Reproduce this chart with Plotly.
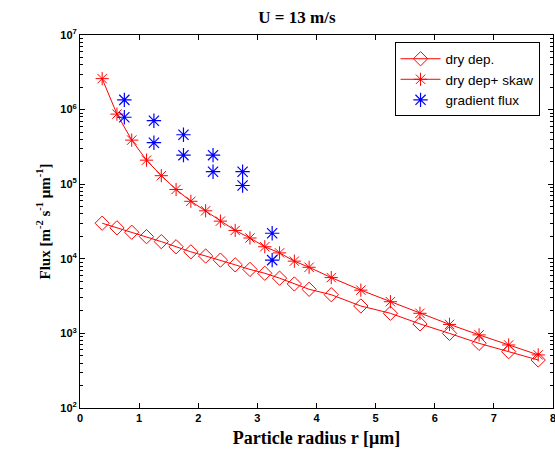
import plotly.graph_objects as go

# Particle radius bins (µm)
r_model = [0.375, 0.625, 0.875, 1.125, 1.375, 1.625, 1.875, 2.125, 2.375, 2.625,
           2.875, 3.125, 3.375, 3.625, 3.875, 4.25, 4.75, 5.25, 5.75, 6.25, 6.75, 7.25, 7.75]
dry_dep = [3.0e4, 2.6e4, 2.27e4, 1.98e4, 1.7e4, 1.45e4, 1.24e4, 1.09e4, 9.6e3, 8.3e3,
           7.2e3, 6.4e3, 5.5e3, 4.6e3, 3.9e3, 3.3e3, 2.33e3, 1.86e3, 1.34e3, 1.0e3, 736, 569, 440]
dry_dep_skaw = [2.6e6, 8.7e5, 3.9e5, 2.1e5, 1.3e5, 8.5e4, 5.9e4, 4.4e4, 3.2e4, 2.4e4,
                1.9e4, 1.45e4, 1.2e4, 9.3e3, 7.7e3, 5.6e3, 3.8e3, 2.66e3, 1.86e3, 1.32e3, 955, 700, 515]
r_grad = [0.75, 0.75, 1.25, 1.25, 1.75, 1.75, 2.25, 2.25, 2.75, 2.75, 3.25, 3.25]
grad_flux = [1.35e6, 7.9e5, 7.1e5, 3.6e5, 4.6e5, 2.45e5, 2.45e5, 1.47e5, 1.47e5, 9.6e4, 2.2e4, 9.6e3]

x_ticks = [0, 1, 2, 3, 4, 5, 6, 7, 8]
x_ticktext = ["0", "1", "2", "3", "4", "5", "6", "7", ""]
x_last_label = "8"
y_tickvals = [1e2, 1e3, 1e4, 1e5, 1e6, 1e7]
y_ticktext = ["10<sup>2</sup>", "10<sup>3</sup>", "10<sup>4</sup>", "10<sup>5</sup>",
              "10<sup>6</sup>", "10<sup>7</sup>"]

tick_font = dict(family="Liberation Sans", size=11, color="black", weight="bold")

fig = go.Figure()
fig.add_trace(go.Scatter(
    x=r_model, y=dry_dep, mode="lines+markers", name="dry dep.",
    line=dict(color="#ff0000", width=1),
    marker=dict(symbol="diamond-open", size=11, color="#ff0000", line=dict(width=1, color="#ff0000"))))
fig.add_trace(go.Scatter(
    x=r_model, y=dry_dep_skaw, mode="lines+markers", name="dry dep+ skaw",
    line=dict(color="#ff0000", width=1),
    marker=dict(symbol="asterisk-open", size=11, color="#ff0000", line=dict(width=1, color="#ff0000"))))
fig.add_trace(go.Scatter(
    x=r_grad, y=grad_flux, mode="markers", name="gradient flux",
    marker=dict(symbol="asterisk-open", size=12, color="#0000ff", line=dict(width=1.2, color="#0000ff"))))

fig.update_layout(
    width=555, height=456,
    margin=dict(l=80, r=2, t=35, b=48),
    paper_bgcolor="white", plot_bgcolor="white",
    title=dict(text="<b>U = 13 m/s</b>", x=0.535, xanchor="center", y=0.963, yanchor="middle",
               font=dict(family="Liberation Serif", size=17, color="black")),
    legend=dict(x=0.665, y=0.98, xanchor="left", yanchor="top",
                bordercolor="black", borderwidth=1, bgcolor="white",
                font=dict(family="Liberation Sans", size=13.5, color="black"),
                tracegroupgap=0, itemwidth=40),
    showlegend=True,
    annotations=[dict(text=x_last_label, x=x_ticks[-1], xref="x", y=0, yref="paper",
                      xanchor="center", yanchor="top", yshift=-2, showarrow=False,
                      font=tick_font)],
)
fig.update_xaxes(
    range=[0, 8], tickvals=x_ticks, ticktext=x_ticktext, ticks="inside", ticklen=5, tickcolor="black",
    showline=True, linecolor="black", linewidth=1, mirror="ticks", showgrid=False, zeroline=False,
    tickfont=tick_font,
    title=dict(text="<b>Particle radius r [μm]</b>", standoff=8,
               font=dict(family="Liberation Serif", size=18, color="black")),
)
fig.update_yaxes(
    type="log", range=[2, 7], tickvals=y_tickvals, ticktext=y_ticktext,
    ticks="inside", ticklen=5, tickcolor="black",
    minor=dict(ticks="inside", ticklen=3, tickcolor="black", dtick="D1", showgrid=False),
    showline=True, linecolor="black", linewidth=1, mirror="ticks", showgrid=False, zeroline=False,
    tickfont=tick_font,
    title=dict(text="<b>Flux [m<sup>-2</sup> s<sup>-1</sup> μm<sup>-1</sup>]</b>", standoff=6,
               font=dict(family="Liberation Serif", size=15, color="black")),
)

fig.write_html("out.html")
